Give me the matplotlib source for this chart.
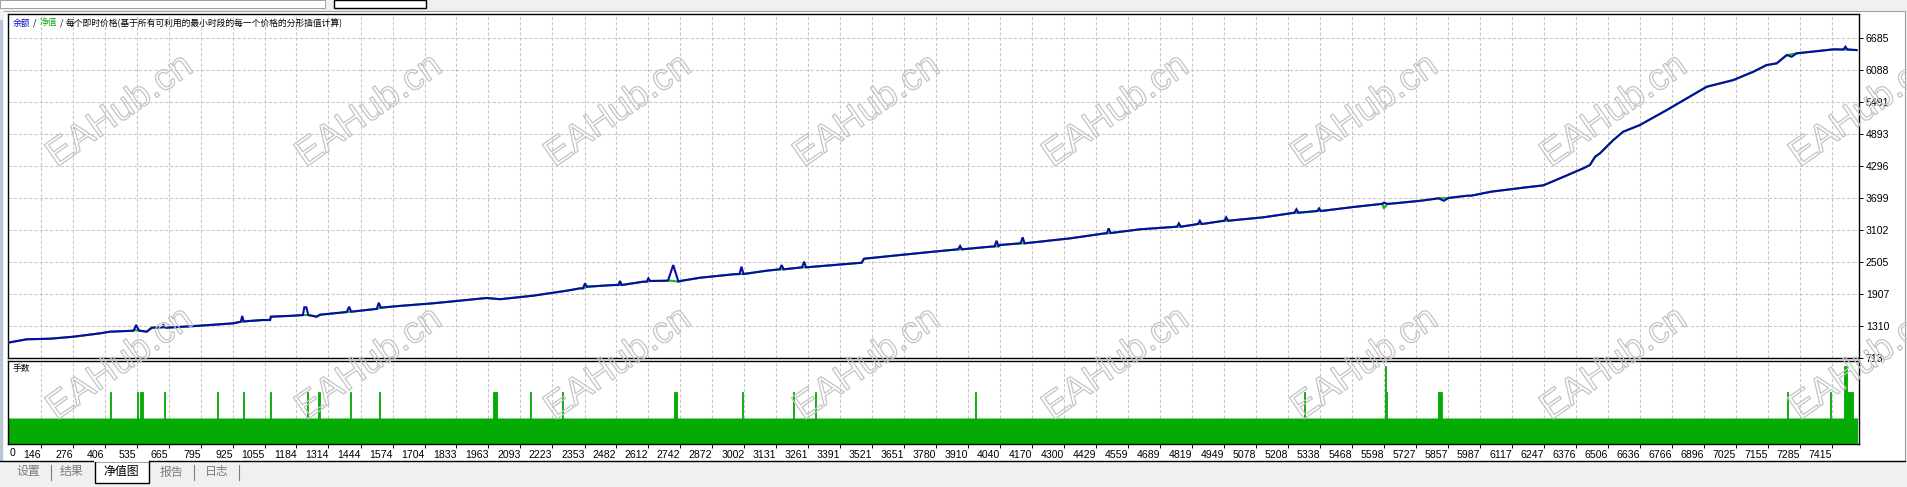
import numpy as np
import matplotlib
matplotlib.use("Agg")
import matplotlib.pyplot as plt
import matplotlib.patheffects as pe
from matplotlib.patches import Rectangle

# balance / equity knots (trade number, account value)
base_n = [13, 22, 89, 184, 278, 387, 427, 522, 525, 545, 576, 597, 640, 650, 657,
          793, 928, 958, 970, 990, 1049, 1077, 1080, 1171, 1210, 1232, 1266, 1280,
          1388, 1406, 1496, 1510, 1526, 1598, 1739, 1875, 1956, 2010, 2145, 2281,
          2335, 2347, 2363, 2470, 2490, 2504, 2591, 2605, 2619, 2686, 2692, 2734,
          2748, 2822, 2957, 2982, 2998, 3092, 3145, 3161, 3236, 3252, 3363, 3478,
          3487, 3633, 3768, 3869, 3885, 3998, 4017, 4033, 4039, 4123, 4139, 4324,
          4466, 4472, 4488, 4608, 4757, 4773, 4842, 4858, 4949, 4965, 5107, 5234,
          5250, 5326, 5342, 5462, 5584, 5590, 5612, 5619, 5747, 5819, 5860, 5935,
          5951, 6031, 6174, 6244, 6339, 6406, 6433, 6454, 6474, 6528, 6568, 6636,
          6745, 6826, 6907, 7015, 7096, 7150, 7191, 7232, 7272, 7421, 7462, 7478,
          7515]
base_v = [1000, 1006, 1062, 1073, 1110, 1173, 1204, 1222, 1235, 1225, 1204, 1278,
          1286, 1286, 1278, 1316, 1360, 1390, 1395, 1403, 1422, 1422, 1484, 1502,
          1515, 1515, 1484, 1521, 1571, 1577, 1622, 1630, 1652, 1683, 1734, 1795,
          1833, 1810, 1876, 1969, 2013, 2013, 2043, 2075, 2075, 2075, 2137, 2137,
          2150, 2155, 2160, 2140, 2155, 2211, 2275, 2280, 2280, 2342, 2368, 2368,
          2405, 2405, 2448, 2491, 2566, 2635, 2697, 2741, 2741, 2790, 2795, 2800,
          2822, 2853, 2853, 2946, 3040, 3040, 3045, 3115, 3163, 3163, 3213, 3213,
          3275, 3275, 3338, 3424, 3424, 3456, 3456, 3525, 3587, 3590, 3590, 3590,
          3648, 3693, 3700, 3742, 3742, 3816, 3898, 3935, 4120, 4253, 4314, 4469,
          4533, 4781, 4936, 5061, 5341, 5559, 5775, 5900, 6055, 6180, 6212, 6367,
          6399, 6473, 6470, 6470, 6460]

# balance excursions (blue only)
peak_n = [533, 644, 964, 1216, 1224, 1398, 1518, 2355, 2497, 2612, 2713, 2990,
          3153, 3244, 3877, 4025, 4131, 4480, 4765, 4850, 4957, 5242, 5334, 5597,
          5840, 7252, 7470]
peak_v = [1329, 1342, 1497, 1659, 1659, 1670, 1745, 2107, 2150, 2200, 2448, 2417,
          2448, 2510, 2803, 2902, 2965, 3133, 3226, 3275, 3338, 3488, 3506, 3611,
          3648, 6335, 6522]

# equity dips (green only)
dip_n = [5597]
dip_v = [3506]

# lots per trade: base 1 lot, with a few larger ones
n_trades = 7519
lot_start = [429, 536, 550, 646, 861, 968, 1075, 1226, 1272, 1400, 1518, 1981, 2132,
             2261, 2715, 2991, 3198, 3287, 3937, 5271, 5601, 5604, 5816, 7232, 7408,
             7466, 7477]
lot_end = [433, 540, 561, 650, 865, 972, 1079, 1230, 1281, 1404, 1522, 1998, 2136,
           2265, 2729, 2995, 3202, 3291, 3941, 5275, 5604, 5608, 5832, 7236, 7413,
           7477, 7500]
lot_size = [2, 2, 2, 2, 2, 2, 2, 2, 2, 2, 2, 2, 2, 2, 2, 2, 2, 2, 2, 2, 3, 2, 2, 2, 2,
            3, 2]

y_ticks = [713, 1310, 1907, 2505, 3102, 3699, 4296, 4893, 5491, 6088, 6685]
x_ticks = [146, 276, 406, 535, 665, 795, 925, 1055, 1184, 1314, 1444, 1574, 1704,
           1833, 1963, 2093, 2223, 2353, 2482, 2612, 2742, 2872, 3002, 3131, 3261,
           3391, 3521, 3651, 3780, 3910, 4040, 4170, 4300, 4429, 4559, 4689, 4819,
           4949, 5078, 5208, 5338, 5468, 5598, 5727, 5857, 5987, 6117, 6247, 6376,
           6506, 6636, 6766, 6896, 7025, 7155, 7285, 7415]

BLUE = "#0a0aa8"
GREEN = "#03ab03"
GRID = "#c6c6c6"
W, H = 1908, 487
tick_font = ["Liberation Sans Narrow", "Liberation Sans", "DejaVu Sans"]
cjk_font = ["Noto Sans CJK SC", "DejaVu Sans"]


def fx(px):
    return px / W


def fy(py):
    return 1 - py / H


fig = plt.figure(figsize=(W / 100, H / 100), dpi=100, facecolor="#f0f0f0")

# window chrome
fig.patches.append(Rectangle((fx(4), fy(461)), fx(1901), 450 / H, transform=fig.transFigure,
                             facecolor="white", edgecolor="none", zorder=-5))
fig.patches.append(Rectangle((0, fy(461)), fx(3), 441 / H, transform=fig.transFigure,
                             facecolor="#b7c5d6", edgecolor="none", zorder=-5))
fig.patches.append(Rectangle((fx(0), fy(8)), fx(325), 8 / H, transform=fig.transFigure,
                             facecolor="white", edgecolor="#a0a0a0", lw=0.7, zorder=-5))
fig.patches.append(Rectangle((fx(334), fy(8)), fx(92), 8 / H, transform=fig.transFigure,
                             facecolor="white", edgecolor="black", lw=1.0, zorder=-5))
fig.lines.append(plt.Line2D([fx(4), fx(1905)], [fy(10.5)] * 2, transform=fig.transFigure,
                            color="#a0a0a0", lw=0.8))
fig.lines.append(plt.Line2D([fx(1905), fx(1905)], [fy(10.5), fy(461)], transform=fig.transFigure,
                            color="#a0a0a0", lw=0.8))
fig.lines.append(plt.Line2D([0, fx(1905)], [fy(461)] * 2, transform=fig.transFigure,
                            color="black", lw=1.0))

ax = fig.add_axes([fx(8), fy(358), fx(1851), 344 / H])
ax2 = fig.add_axes([fx(8), fy(444), fx(1851), 83 / H])

# equity (green) underneath, balance (blue) on top
eq_n = np.array(base_n + dip_n)
eq_v = np.array(base_v + dip_v)
o = np.argsort(eq_n, kind="stable")
ax.plot(eq_n[o], eq_v[o], color="#10c010", lw=1.5, zorder=3)
bal_n = np.array(base_n + peak_n)
bal_v = np.array(base_v + peak_v)
o = np.argsort(bal_n, kind="stable")
ax.plot(bal_n[o], bal_v[o], color=BLUE, lw=1.5, zorder=4, solid_joinstyle="miter")

ax.set_xlim(13.4, 7525)
ax.set_ylim(713, 7133)
ax.set_yticks(y_ticks)
ax.set_xticks(x_ticks)
ax.yaxis.tick_right()
ax.tick_params(axis="y", length=3, width=0.7, pad=2, labelsize=7.6, direction="out")
ax.tick_params(axis="x", length=0, labelbottom=False)
for lab in ax.get_yticklabels():
    lab.set_family(tick_font)
ax.grid(True, color=GRID, lw=0.75, ls=(0, (3, 2)))

# lots panel
trades = np.arange(0, n_trades + 1)
lots = np.ones(len(trades))
ax2.fill_between(trades, lots, step="post", color=GREEN, lw=0, zorder=2)
ax2.bar(lot_start, lot_size, width=np.array(lot_end) - np.array(lot_start), align="edge",
        color=GREEN, edgecolor=GREEN, lw=0.6, zorder=2)
ax2.set_xlim(13.4, 7525)
ax2.set_ylim(0, 3.19)
ax2.set_yticks([])
ax2.set_xticks(x_ticks)
ax2.set_xticklabels([str(v) for v in x_ticks])
ax2.tick_params(axis="x", length=3, width=0.7, pad=1.5, labelsize=7.6, direction="out")
for lab in ax2.get_xticklabels():
    lab.set_family(tick_font)
    lab.set_ha("right")
ax2.xaxis.grid(True, color=GRID, lw=0.75, ls=(0, (3, 2)))
ax2.set_axisbelow(True)
ax2.text(0.001, -0.045, "0", transform=ax2.transAxes, ha="left", va="top",
         fontsize=7.6, family=tick_font)

for a in (ax, ax2):
    a.set_facecolor("none")
    for s in a.spines.values():
        s.set_color("black")
        s.set_linewidth(1.0)

# captions
fig.text(fx(12.5), fy(23), "余额", color="#1010c8", fontsize=6.3, family=cjk_font, va="center")
fig.text(fx(32.5), fy(23), "/", color="black", fontsize=6.3, family=cjk_font, va="center")
fig.text(fx(39.3), fy(23), "净值", color="#10b010", fontsize=6.3, family=cjk_font, va="center")
fig.text(fx(59.5), fy(23), "/", color="black", fontsize=6.3, family=cjk_font, va="center")
fig.text(fx(66), fy(23), "每个即时价格(基于所有可利用的最小时段的每一个价格的分形插值计算)",
         color="black", fontsize=6.3, family=cjk_font, va="center")
fig.text(fx(12.5), fy(369), "手数", color="black", fontsize=6.3, family=cjk_font, va="center")

# bottom tabs
fig.patches.append(Rectangle((fx(95), fy(483)), fx(54), 22 / H, transform=fig.transFigure,
                             facecolor="white", edgecolor="black", lw=1.0, zorder=1))
fig.lines.append(plt.Line2D([fx(95.5), fx(148.5)], [fy(461)] * 2, transform=fig.transFigure,
                            color="white", lw=1.4, zorder=2))
tabs = ["设置", "结果", "净值图", "报告", "日志"]
tab_x = [28.5, 71.5, 121.5, 171.5, 216.5]
for t, x in zip(tabs, tab_x):
    fig.text(fx(x), fy(472), t, ha="center", va="center", fontsize=8.6, family=cjk_font,
             color="black" if t == "净值图" else "#7c7c7c", zorder=3)
for x in [50.7, 194, 239]:
    fig.lines.append(plt.Line2D([fx(x)] * 2, [fy(465), fy(480)], transform=fig.transFigure,
                                color="#7c7c7c", lw=0.8))

# watermarks
for cy in [111, 364]:
    for cx in [120, 369, 618, 867, 1116, 1365, 1614, 1863]:
        fig.text(fx(cx), fy(cy), "EAHub.cn", rotation=35, ha="center", va="center",
                 rotation_mode="anchor", fontsize=27, family=["Liberation Sans", "DejaVu Sans"],
                 color="none", zorder=10,
                 path_effects=[pe.Stroke(linewidth=0.9, foreground="#c4c4c4")])

fig.savefig("out.png", dpi=100, facecolor=fig.get_facecolor())
